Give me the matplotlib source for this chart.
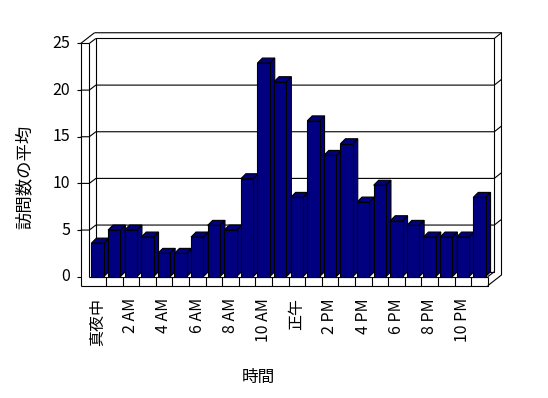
import matplotlib
matplotlib.use("Agg")
import matplotlib.pyplot as plt
from matplotlib.patches import Polygon

plt.rcParams['font.family'] = ['Noto Sans CJK JP', 'DejaVu Sans']

# ---- data ----
hours = list(range(24))
avg_visits = [3.6, 5.0, 5.0, 4.25, 2.5, 2.5, 4.25, 5.5, 5.0, 10.5, 22.9, 20.9,
              8.5, 16.7, 13.0, 14.25, 8.0, 9.8, 6.0, 5.5, 4.25, 4.25, 4.25, 8.5]
x_tick_labels = ['真夜中', '2 AM', '4 AM', '6 AM', '8 AM', '10 AM',
                 '正午', '2 PM', '4 PM', '6 PM', '8 PM', '10 PM']
y_ticks = [0, 5, 10, 15, 20, 25]
y_label = '訪問数の平均'
x_label = '時間'

# ---- layout (pixel geometry of the pseudo-3D frame) ----
W, H = 548, 398
PX_CAT = 16.6      # pixels per category
PX_UNIT = 9.33     # pixels per value unit
LEFT_PX = 89.3     # x pixel of left edge of category 0 (front plane)
ZERO_PX = 276.7    # y pixel (from top) of value 0 (front plane)

fig = plt.figure(figsize=(W / 100, H / 100), dpi=100)
ax = fig.add_axes([0, 0, 1, 1])
x0 = -0.5 - LEFT_PX / PX_CAT
y0 = -(H - ZERO_PX) / PX_UNIT
ax.set_xlim(x0, x0 + W / PX_CAT)
ax.set_ylim(y0, y0 + H / PX_UNIT)
ax.axis('off')

n = len(hours)
xl, xr = -0.5, n - 0.5
ymax = y_ticks[-1]
t = 8.6 / PX_CAT            # left wall thickness
fh = 9.0 / PX_UNIT          # floor thickness
dx, dy = 6.6 / PX_CAT, 5.0 / PX_UNIT     # plot depth
bx, by = 7.2 / PX_CAT, 5.7 / PX_UNIT     # back wall thickness
bw = 12.3 / PX_CAT          # bar width
bdx, bdy = 5.0 / PX_CAT, 5.0 / PX_UNIT   # bar depth

lk = dict(color='black', lw=0.8, solid_capstyle='butt', zorder=2)

def line(xs, ys):
    ax.plot(xs, ys, **lk)

# back wall inner face
line([xl + dx, xr + dx, xr + dx, xl + dx, xl + dx],
     [dy, dy, ymax + dy, ymax + dy, dy])
# gridlines (left wall front, left wall inner face, back wall, back wall side)
for v in y_ticks[1:-1]:
    line([xl - t, xl, xl + dx, xr + dx, xr + dx + bx],
         [v, v, v + dy, v + dy, v + dy + by])
# tick marks
for v in y_ticks:
    line([xl - t - 3.5 / PX_CAT, xl - t], [v, v])
# left wall
line([xl - t, xl - t], [-fh, ymax])
line([xl, xl], [0, ymax])
line([xl - t, xl], [ymax, ymax])
line([xl - t, xl - t + dx + bx], [ymax, ymax + dy + by])
line([xl, xl + dx], [ymax, ymax + dy])
# back wall top / right side
line([xl - t + dx + bx, xr + dx + bx, xr + dx + bx, xr],
     [ymax + dy + by, ymax + dy + by, -fh + dy + by, -fh])
line([xr + dx, xr + dx + bx], [ymax + dy, ymax + dy + by])
line([xr, xr + dx], [0, dy])
# floor front face
line([xl - t, xr, xr], [-fh, -fh, 0])
line([xl, xr], [0, 0])
for k in range(1, n):
    line([xl + k, xl + k], [-fh, 0])

# bars: side + top faces, then front faces
navy = '#000080'
for i, v in zip(hours, avg_visits):
    r = i + bw / 2
    l = i - bw / 2
    ax.add_patch(Polygon([(r, 0), (r + bdx, bdy), (r + bdx, v + bdy), (r, v)],
                         closed=True, facecolor=navy, edgecolor='black',
                         lw=0.8, zorder=3))
    ax.add_patch(Polygon([(l, v), (l + bdx, v + bdy), (r + bdx, v + bdy), (r, v)],
                         closed=True, facecolor=navy, edgecolor='black',
                         lw=0.8, zorder=3))
ax.bar(hours, avg_visits, width=bw, color=navy, edgecolor='black',
       linewidth=0.8, zorder=4)

# y tick labels
for v in y_ticks:
    ax.text(xl - t - 10.5 / PX_CAT, v, str(v), ha='right', va='center',
            fontsize=11.5, color='black')
# x tick labels
for lab, i in zip(x_tick_labels, hours[::2]):
    ax.text(i, -fh - 12.3 / PX_UNIT, lab, rotation=90, ha='center', va='top',
            fontsize=11.5, color='black')

fig.text(25 / W, 1 - 177 / H, y_label, rotation=90, ha='center', va='center',
         fontsize=12.5)
fig.text(258 / W, 1 - 377 / H, x_label, ha='center', va='center', fontsize=12)

fig.savefig('out.png', dpi=100, facecolor='white')
